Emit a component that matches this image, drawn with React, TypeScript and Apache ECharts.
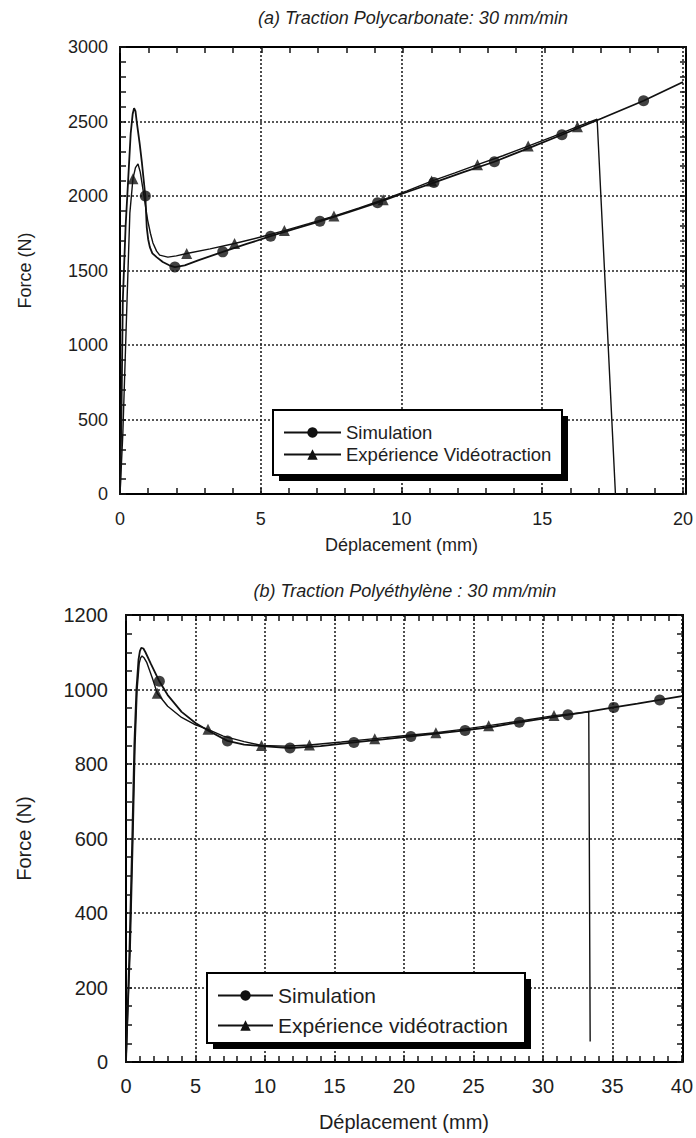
import React, { useEffect, useRef } from "react";
import * as echarts from "echarts";

// ---------- (a) Polycarbonate ----------
const pcSimX = [0, 0.05, 0.1, 0.2, 0.29, 0.38, 0.45, 0.5, 0.55, 0.6, 0.7, 0.78, 0.9, 0.95, 1.0, 1.06, 1.15, 1.3, 1.52, 1.75, 1.95, 2.3, 2.8, 3.65, 4.5, 5.35, 6.2, 7.1, 8.1, 9.15, 10.1, 11.15, 12.2, 13.3, 14.5, 15.7, 17.1, 18.6, 20];
const pcSimY = [0, 500, 1300, 1800, 2107, 2420, 2550, 2590, 2570, 2490, 2350, 2220, 2000, 1790, 1710, 1657, 1615, 1590, 1557, 1535, 1523, 1535, 1570, 1625, 1678, 1730, 1780, 1830, 1890, 1955, 2020, 2090, 2160, 2230, 2320, 2411, 2520, 2639, 2765];
const pcSimMarkX = [0.9, 1.95, 3.65, 5.35, 7.1, 9.15, 11.15, 13.3, 15.7, 18.6];
const pcSimMarkY = [2000, 1523, 1625, 1730, 1830, 1955, 2090, 2230, 2411, 2639];

const pcExpX = [0, 0.1, 0.2, 0.25, 0.35, 0.46, 0.55, 0.64, 0.72, 0.82, 0.98, 1.08, 1.17, 1.3, 1.41, 1.7, 2.0, 2.37, 3.2, 4.07, 5.0, 5.84, 6.7, 7.6, 8.5, 9.35, 10.2, 11.07, 11.9, 12.7, 13.6, 14.5, 15.4, 16.25, 16.95, 17.6];
const pcExpY = [0, 400, 1000, 1300, 1885, 2116, 2190, 2215, 2160, 2040, 1840, 1750, 1685, 1630, 1603, 1590, 1598, 1614, 1645, 1681, 1725, 1768, 1815, 1865, 1920, 1975, 2035, 2100, 2155, 2210, 2270, 2335, 2400, 2465, 2515, 0];
const pcExpMarkX = [0.46, 2.37, 4.07, 5.84, 7.6, 9.35, 11.07, 12.7, 14.5, 16.25];
const pcExpMarkY = [2116, 1614, 1681, 1768, 1865, 1975, 2100, 2210, 2335, 2465];

// ---------- (b) Polyethylene ----------
const peSimX = [0, 0.25, 0.45, 0.6, 0.75, 0.9, 1.0, 1.1, 1.25, 1.4, 1.8, 2.4, 3.0, 4.0, 5.0, 5.9, 7.3, 8.5, 9.8, 11.8, 14.0, 16.4, 18.5, 20.5, 22.5, 24.4, 26.4, 28.3, 30.0, 31.8, 33.5, 35.1, 36.8, 38.4, 40];
const peSimY = [0, 300, 600, 850, 1000, 1080, 1103, 1112, 1110, 1100, 1068, 1022, 985, 940, 910, 890, 862, 852, 848, 843, 848, 858, 866, 874, 882, 890, 900, 912, 922, 932, 942, 952, 962, 972, 982];
const peSimMarkX = [2.4, 7.3, 11.8, 16.4, 20.5, 24.4, 28.3, 31.8, 35.1, 38.4];
const peSimMarkY = [1022, 862, 843, 858, 874, 890, 912, 932, 952, 972];

const peExpX = [0, 0.3, 0.5, 0.65, 0.8, 0.95, 1.05, 1.15, 1.3, 1.5, 1.9, 2.25, 3.0, 4.0, 5.0, 5.9, 7.0, 8.5, 9.75, 11.5, 13.2, 15.5, 17.9, 20.0, 22.3, 24.2, 26.1, 28.5, 30.8, 32.3, 33.3, 33.4];
const peExpY = [0, 300, 600, 850, 1000, 1070, 1085, 1090, 1085, 1072, 1030, 990, 955, 925, 905, 893, 875, 860, 850, 848, 851, 859, 868, 876, 884, 893, 903, 916, 930, 936, 940, 55];
const peExpMarkX = [2.25, 5.9, 9.75, 13.2, 17.9, 22.3, 26.1, 30.8];
const peExpMarkY = [990, 893, 850, 851, 868, 884, 903, 930];

// axis ranges [min, max, interval]
const pcXRange = [0, 20, 5];
const pcYRange = [0, 3000, 500];
const peXRange = [0, 40, 5];
const peYRange = [0, 1200, 200];

const titleA = "(a) Traction Polycarbonate: 30 mm/min";
const titleB = "(b) Traction Polyéthylène : 30 mm/min";
const xName = "Déplacement (mm)";
const yName = "Force (N)";
const simName = "Simulation";
const expNameA = "Expérience Vidéotraction";
const expNameB = "Expérience vidéotraction";

const FONT = "'Liberation Sans', Arial, Helvetica, sans-serif";
const INK = "#1e1e1e";
const TICK = "#141414";

const zip = (xs: number[], ys: number[]) => xs.map((x, i) => [x, ys[i]]);

function valueAxis(
  gridIndex: number,
  range: number[],
  position: string,
  main: boolean,
  fontSize: number,
  labelMargin: number,
  name: string,
  nameGap: number,
  minorSplit: number
): any {
  const a: any = {
    type: "value",
    gridIndex,
    position,
    min: range[0],
    max: range[1],
    interval: range[2],
    axisLine: { show: true, lineStyle: { color: "#000", width: 2 } },
    axisTick: { show: true, inside: true, length: 6, lineStyle: { color: TICK, width: 1.5 } },
    minorTick: { show: true, splitNumber: minorSplit, length: 6, lineStyle: { color: TICK, width: 1.5 } },
    axisLabel: {
      show: main,
      margin: labelMargin,
      fontFamily: FONT,
      fontSize,
      color: INK,
      formatter: (v: number) => String(v),
    },
    splitLine: main
      ? { show: true, lineStyle: { color: "#222", width: 1.6, type: [2, 2] } }
      : { show: false },
  };
  if (main) {
    a.name = name;
    a.nameLocation = "middle";
    a.nameGap = nameGap;
    a.nameTextStyle = { fontFamily: FONT, fontSize: fontSize, color: INK };
  } else {
    // mirror axes live in an overlaid grid; inverted so their "zero" sits on the top / right edge
    a.inverse = true;
  }
  return a;
}

export default function App() {
  const ref = useRef<HTMLDivElement>(null);

  useEffect(() => {
    if (!ref.current) return;
    const chart = echarts.init(ref.current, undefined, { renderer: "svg" });

    const gA = { left: 120, top: 47, width: 566, height: 447 };
    const gB = { left: 126, top: 615, width: 557, height: 447 };

    const xA = valueAxis(0, pcXRange, "bottom", true, 18, 16, xName, 42, 5);
    const yA = valueAxis(0, pcYRange, "left", true, 18, 12, yName, 86, 5);
    const xB = valueAxis(1, peXRange, "bottom", true, 20, 14, xName, 50, 5);
    const yB = valueAxis(1, peYRange, "left", true, 20, 18, yName, 92, 4);
    const xA2 = valueAxis(2, pcXRange, "top", false, 18, 16, "", 0, 5);
    const yA2 = valueAxis(2, pcYRange, "right", false, 18, 12, "", 0, 5);
    const xB2 = valueAxis(3, peXRange, "top", false, 20, 14, "", 0, 5);
    const yB2 = valueAxis(3, peYRange, "right", false, 20, 18, "", 0, 4);

    const lineBase = (name: string, data: number[][], xi: number, yi: number, symbol: string, width: number) => ({
      name,
      type: "line",
      xAxisIndex: xi,
      yAxisIndex: yi,
      data,
      symbol,
      symbolSize: 10,
      showSymbol: false,
      lineStyle: { color: "#111", width },
      itemStyle: { color: "#111" },
      z: 3,
    });
    const markBase = (name: string, data: number[][], xi: number, yi: number, symbol: string, size: number) => ({
      name,
      type: "scatter",
      xAxisIndex: xi,
      yAxisIndex: yi,
      data,
      symbol,
      symbolSize: size,
      itemStyle: { color: "#111" },
      z: 4,
    });

    const option: any = {
      animation: false,
      grid: [gA, gB, { ...gA }, { ...gB }],
      xAxis: [xA, xB, xA2, xB2],
      yAxis: [yA, yB, yA2, yB2],
      legend: [
        {
          data: [simName, expNameA],
          orient: "vertical",
          left: 283,
          top: 423,
          padding: 0,
          itemWidth: 57,
          itemHeight: 13,
          itemGap: 3,
          selectedMode: false,
          textStyle: { fontFamily: FONT, fontSize: 18.5, lineHeight: 18, color: INK },
          z: 20,
        },
        {
          data: [simName, expNameB],
          orient: "vertical",
          left: 217,
          top: 985,
          padding: 0,
          itemWidth: 55,
          itemHeight: 13,
          itemGap: 9,
          selectedMode: false,
          textStyle: { fontFamily: FONT, fontSize: 21, lineHeight: 21, color: INK },
          z: 20,
        },
      ],
      graphic: [
        { type: "rect", z: 10, shape: { x: 279, y: 416, width: 289, height: 65 }, style: { fill: "#000" } },
        { type: "rect", z: 11, shape: { x: 273, y: 410, width: 289, height: 65 }, style: { fill: "#fff", stroke: "#000", lineWidth: 2 } },
        { type: "rect", z: 10, shape: { x: 213, y: 979, width: 318, height: 70 }, style: { fill: "#000" } },
        { type: "rect", z: 11, shape: { x: 207, y: 973, width: 318, height: 70 }, style: { fill: "#fff", stroke: "#000", lineWidth: 2 } },
        {
          type: "text",
          z: 12,
          x: 413,
          y: 18,
          style: { text: titleA, fontFamily: FONT, fontSize: 18, fontStyle: "italic", fill: INK, align: "center", verticalAlign: "middle" },
        },
        {
          type: "text",
          z: 12,
          x: 405,
          y: 591,
          style: { text: titleB, fontFamily: FONT, fontSize: 18, fontStyle: "italic", fill: INK, align: "center", verticalAlign: "middle" },
        },
      ],
      series: [
        lineBase(simName, zip(pcSimX, pcSimY), 0, 0, "circle", 1.8),
        markBase("pcSimMarks", zip(pcSimMarkX, pcSimMarkY), 0, 0, "circle", 11),
        lineBase(expNameA, zip(pcExpX, pcExpY), 0, 0, "triangle", 1.4),
        markBase("pcExpMarks", zip(pcExpMarkX, pcExpMarkY), 0, 0, "triangle", 11),
        lineBase(simName, zip(peSimX, peSimY), 1, 1, "circle", 1.8),
        markBase("peSimMarks", zip(peSimMarkX, peSimMarkY), 1, 1, "circle", 11),
        lineBase(expNameB, zip(peExpX, peExpY), 1, 1, "triangle", 1.4),
        markBase("peExpMarks", zip(peExpMarkX, peExpMarkY), 1, 1, "triangle", 11),
      ],
    };

    chart.setOption(option);
    return () => chart.dispose();
  }, []);

  return (
    <div
      ref={ref}
      style={{ position: "absolute", left: 0, top: 0, width: 696, height: 1138, background: "#fff" }}
    />
  );
}
